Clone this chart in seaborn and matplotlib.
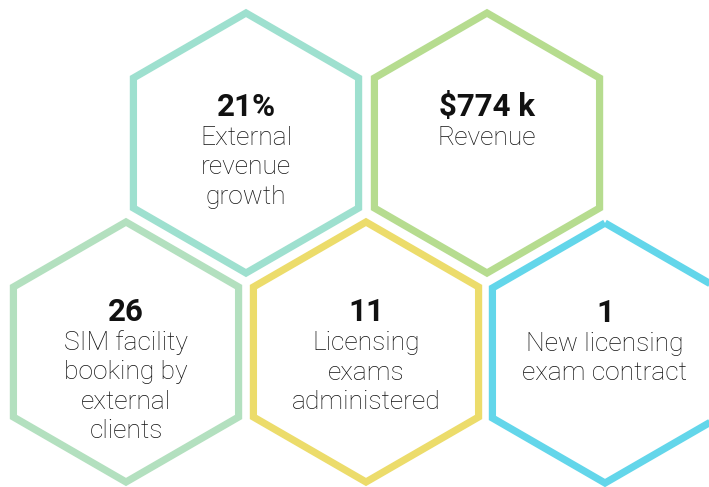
import numpy as np
import seaborn as sns
import matplotlib.pyplot as plt
from matplotlib.patches import Polygon

# datos de las tarjetas
values = ["21%", "$774 k", "26", "11", "1"]
labels = [
    "External\nrevenue\ngrowth",
    "Revenue",
    "SIM facility\nbooking by\nexternal\nclients",
    "Licensing\nexams\nadministered",
    "New licensing\nexam contract",
]
colors = ["#9ee0cf", "#b6dc8f", "#b3e0bf", "#ecdc6b", "#63d6ea"]

# posiciones de los hexagonos (pixeles)
centers_x = [246, 487, 126, 366, 605]
centers_y = [143, 143, 352, 352, 353]
num_y = [116, 116, 321, 321, 322]
R = 130

sns.set_theme(style="white")
plt.rcParams["font.family"] = ["Roboto", "DejaVu Sans"]

fig = plt.figure(figsize=(7.09, 4.87), dpi=100)
ax = fig.add_axes([0, 0, 1, 1])
ax.set_xlim(0, 709)
ax.set_ylim(487, 0)
ax.axis("off")

ang = np.deg2rad(np.arange(90, 450, 60))
for cx, cy, c, v, lab, ny in zip(centers_x, centers_y, colors, values, labels, num_y):
    pts = np.column_stack([cx + R * np.cos(ang), cy - R * np.sin(ang)])
    ax.add_patch(Polygon(pts, closed=True, fill=False, edgecolor=c,
                         linewidth=5.2, joinstyle="miter"))
    ax.text(cx, ny, v, ha="center", va="baseline", fontsize=22.5,
            fontweight="bold", color="#111111")
    for i, line in enumerate(lab.split("\n")):
        ax.text(cx, ny + 29 + i * 29.5, line, ha="center", va="baseline",
                fontsize=19, fontweight="light", color="#111111")

plt.savefig("out.png", dpi=100)
